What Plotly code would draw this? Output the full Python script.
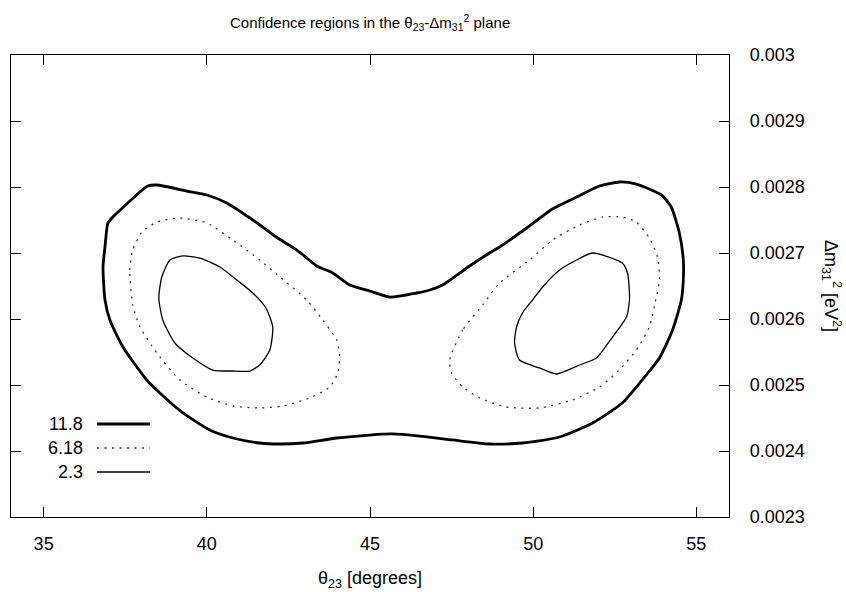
import plotly.graph_objects as go

# ---------------- data (theta23 [deg], dm31^2 [eV^2]) ----------------
levels = ["11.8", "6.18", "2.3"]

outer_x = [36.88, 36.97, 37.12, 37.95, 38.19, 38.47, 39.39, 40.00, 40.61, 41.41, 42.17, 42.76,
           43.37, 43.86, 44.38, 44.99, 45.60, 46.43, 46.83, 47.22, 48.05, 48.66, 48.97, 49.80,
           50.59, 51.33, 52.03, 52.64, 53.16, 53.93, 54.23, 54.48, 54.60, 54.60, 54.54, 54.27,
           53.87, 53.26, 52.73, 51.82, 50.81, 49.67, 48.66, 47.53, 46.52, 45.69, 44.99, 43.98,
           42.94, 42.23, 41.62, 40.80, 40.09, 39.27, 38.56, 38.16, 37.43, 37.03, 36.88, 36.82, 36.88]
outer_y = [0.0027091, 0.0027455, 0.0027545, 0.0027924, 0.0028015, 0.0028030, 0.0027939, 0.0027879,
           0.0027758, 0.0027500, 0.0027227, 0.0027045, 0.0026803, 0.0026697, 0.0026515, 0.0026424,
           0.0026333, 0.0026394, 0.0026439, 0.0026515, 0.0026803, 0.0027000, 0.0027091, 0.0027379,
           0.0027667, 0.0027848, 0.0028015, 0.0028076, 0.0028045, 0.0027879, 0.0027697, 0.0027303,
           0.0026894, 0.0026591, 0.0026288, 0.0025833, 0.0025409, 0.0025030, 0.0024727, 0.0024424,
           0.0024212, 0.0024121, 0.0024106, 0.0024167, 0.0024227, 0.0024258, 0.0024242, 0.0024197,
           0.0024121, 0.0024106, 0.0024121, 0.0024197, 0.0024318, 0.0024576, 0.0024879, 0.0025076,
           0.0025576, 0.0025985, 0.0026288, 0.0026788, 0.0027091]

mid_left_x = [37.73, 37.64, 37.73, 38.01, 38.47, 39.17, 40.00, 40.80, 41.62, 42.17, 43.06, 43.55,
              43.98, 44.07, 44.01, 43.77, 43.15, 42.33, 41.62, 40.80, 40.00, 39.17, 38.47, 37.95, 37.73]
mid_left_y = [0.0026212, 0.0026742, 0.0027045, 0.0027318, 0.0027470, 0.0027530, 0.0027455, 0.0027197,
              0.0026894, 0.0026667, 0.0026288, 0.0025985, 0.0025682, 0.0025424, 0.0025182, 0.0024970,
              0.0024803, 0.0024682, 0.0024652, 0.0024682, 0.0024818, 0.0025076, 0.0025485, 0.0025879,
              0.0026212]

mid_right_x = [48.45, 47.84, 47.44, 47.50, 47.84, 48.36, 49.18, 50.19, 51.20, 52.03, 52.64, 53.16,
               53.56, 53.74, 53.87, 53.81, 53.56, 53.16, 52.73, 52.12, 51.42, 50.59, 49.89, 48.97, 48.45]
mid_right_y = [0.0026212, 0.0025833, 0.0025379, 0.0025182, 0.0024970, 0.0024803, 0.0024667, 0.0024652,
               0.0024773, 0.0024970, 0.0025227, 0.0025530, 0.0025879, 0.0026258, 0.0026591, 0.0026939,
               0.0027227, 0.0027470, 0.0027545, 0.0027545, 0.0027424, 0.0027197, 0.0026894, 0.0026545,
               0.0026212]

in_left_x = [39.27, 39.79, 40.40, 40.92, 41.41, 41.81, 42.02, 41.93, 41.62, 41.32, 40.80, 40.18,
             39.57, 39.02, 38.65, 38.53, 38.62, 38.87, 39.27]
in_left_y = [0.0026955, 0.0026924, 0.0026788, 0.0026591, 0.0026394, 0.0026167, 0.0025879, 0.0025530,
             0.0025303, 0.0025212, 0.0025212, 0.0025227, 0.0025409, 0.0025636, 0.0025985, 0.0026318,
             0.0026636, 0.0026894, 0.0026955]

in_right_x = [51.82, 52.73, 52.89, 52.95, 52.95, 52.86, 52.43, 51.94, 51.42, 50.71, 50.19, 49.58,
              49.43, 49.49, 49.67, 49.98, 50.29, 50.81, 51.33, 51.82]
in_right_y = [0.0027000, 0.0026848, 0.0026697, 0.0026394, 0.0026288, 0.0026030, 0.0025727, 0.0025409,
              0.0025303, 0.0025167, 0.0025258, 0.0025379, 0.0025636, 0.0025879, 0.0026091, 0.0026288,
              0.0026485, 0.0026742, 0.0026894, 0.0027000]

x_ticks = [35, 40, 45, 50, 55]
y_ticks = [0.0023, 0.0024, 0.0025, 0.0026, 0.0027, 0.0028, 0.0029, 0.0030]
y_ticktext = ["0.0023", "0.0024", "0.0025", "0.0026", "0.0027", "0.0028", "0.0029", "0.003"]

# ---------------- styles ----------------
FONT = "Liberation Sans, Arial, Helvetica, sans-serif"
FS = 18
styles = {
    "11.8": dict(color="black", width=2.8, dash="solid"),
    "6.18": dict(color="#333333", width=1.3, dash="2px,5.5px"),
    "2.3": dict(color="black", width=1.3, dash="solid"),
}

fig = go.Figure()
curves = [("11.8", outer_x, outer_y), ("6.18", mid_left_x, mid_left_y),
          ("6.18", mid_right_x, mid_right_y), ("2.3", in_left_x, in_left_y),
          ("2.3", in_right_x, in_right_y)]
for lev, xs, ys in curves:
    fig.add_trace(go.Scatter(x=xs, y=ys, mode="lines", showlegend=False,
                             line=dict(shape="spline", smoothing=0.6, **styles[lev]),
                             hoverinfo="skip"))

# manual gnuplot-style key: label right-aligned, sample to the right
key_y = [0.2013, 0.1494, 0.0974]
for lev, ky in zip(levels, key_y):
    fig.add_annotation(x=0.1031, y=ky, xref="paper", yref="paper", text=lev,
                       showarrow=False, xanchor="right", yanchor="middle",
                       font=dict(family=FONT, size=FS, color="black"))
    st = styles[lev]
    fig.add_shape(type="line", xref="paper", yref="paper", x0=0.1198, x1=0.1936,
                  y0=ky, y1=ky, line=dict(color=st["color"], width=st["width"], dash=st["dash"]))

axis_common = dict(showline=True, linecolor="black", linewidth=1.3, mirror="ticks",
                   ticks="inside", ticklen=10, tickwidth=1.2, tickcolor="black",
                   showgrid=False, zeroline=False,
                   tickfont=dict(family=FONT, size=FS, color="black"))

fig.update_xaxes(range=[34, 56], tickvals=x_ticks, ticklabelstandoff=10, **axis_common)
fig.update_yaxes(range=[0.0023, 0.003], side="right", tickvals=y_ticks, ticktext=y_ticktext,
                 ticklabelstandoff=16, **axis_common)

fig.add_annotation(x=0.5, y=1.0714, xref="paper", yref="paper", showarrow=False,
                   text="Confidence regions in the θ<sub>23</sub>-Δm<sub>31</sub><sup>2</sup> plane",
                   font=dict(family=FONT, size=15, color="black"), yanchor="middle")
fig.add_annotation(x=0.5, y=-0.136, xref="paper", yref="paper", showarrow=False,
                   text="θ<sub>23</sub> [degrees]", yanchor="middle",
                   font=dict(family=FONT, size=FS, color="black"))
fig.add_annotation(x=1.1435, y=0.5, xref="paper", yref="paper", showarrow=False,
                   text="Δm<sub>31</sub><sup>2</sup> [eV<sup>2</sup>]", textangle=90,
                   xanchor="center", yanchor="middle",
                   font=dict(family=FONT, size=FS, color="black"))

fig.update_layout(width=846, height=592, margin=dict(l=11, r=117, t=55, b=75),
                  plot_bgcolor="white", paper_bgcolor="white")

fig.write_html("out.html")
